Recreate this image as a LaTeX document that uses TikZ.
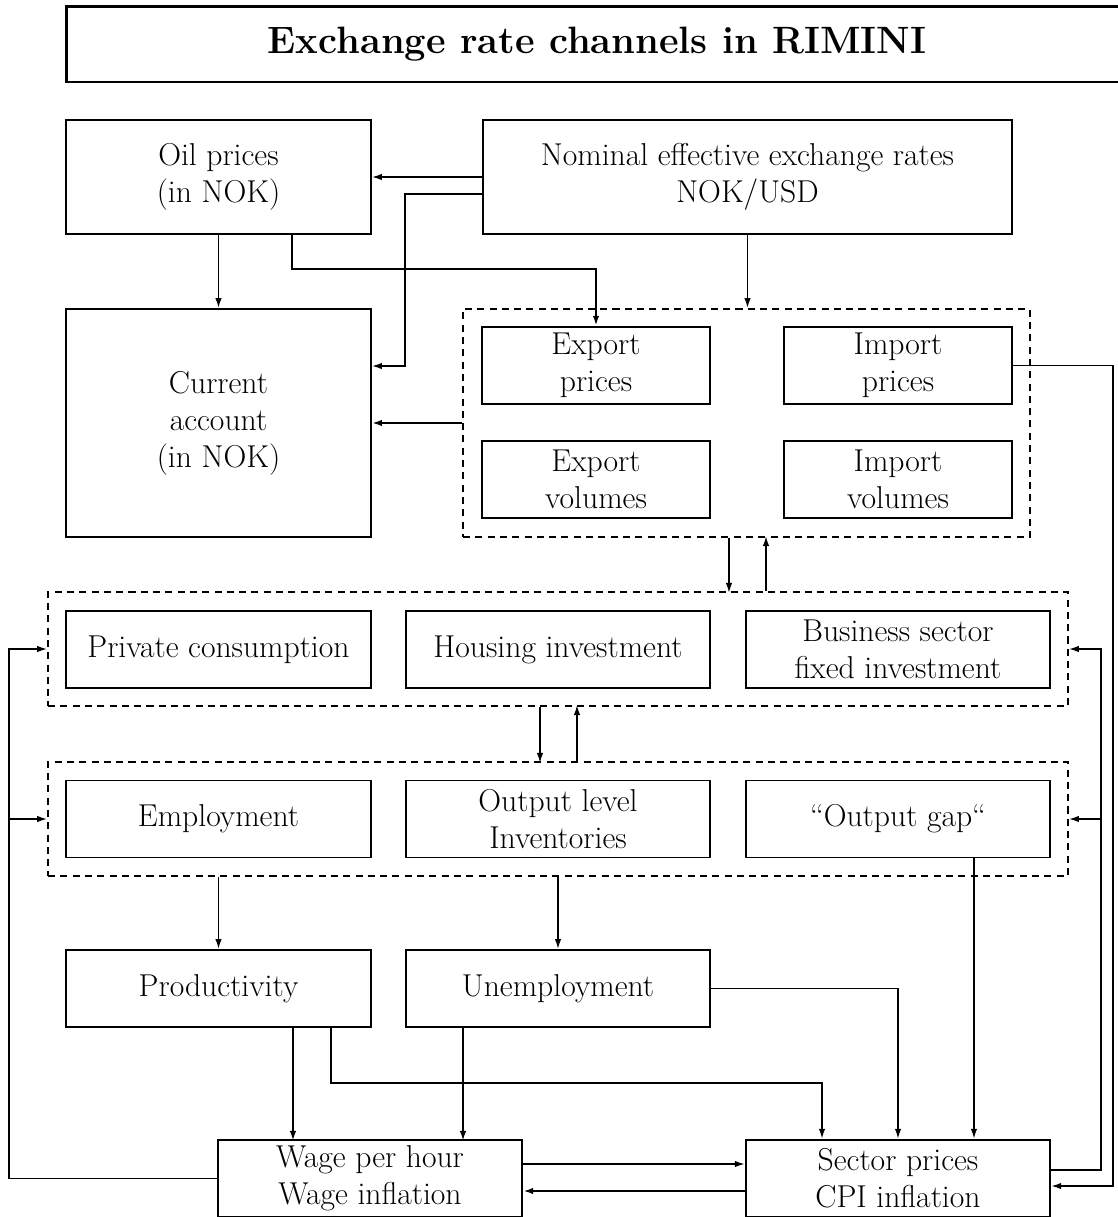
\documentclass[tikz,border=0pt]{standalone}
\usepackage{tikz}
\usetikzlibrary{arrows.meta}

\begin{document}
\begin{tikzpicture}[x=0.02cm,y=-0.02cm]
      \tikzstyle{box}=[rectangle,draw=black,line width=1.1pt,align=center,inner sep=0pt,
        font=\fontsize{18}{21}\selectfont]
      \tikzstyle{group}=[rectangle,draw=black,line width=1.1pt,dash pattern=on 4pt off 3pt]
      \tikzstyle{arr}=[line width=0.9pt,-{Latex[length=2mm,width=1.3mm]}]
      \useasboundingbox (0,0) rectangle (1117,1217);
      % title
      \node[box,line width=1.7pt,minimum width=21.24cm,minimum height=1.52cm,
        font=\fontsize{21.7}{26}\selectfont\bfseries] (title) at (597,44) {Exchange rate channels in RIMINI};
      % top row
      \node[box,minimum width=6.1cm,minimum height=2.28cm] (oil) at (218.5,177) {Oil prices\\(in NOK)};
      \node[box,minimum width=10.58cm,minimum height=2.28cm] (neer) at (747.5,177) {Nominal effective exchange rates\\NOK/USD};
      \node[box,minimum width=6.1cm,minimum height=4.56cm] (ca) at (218.5,423) {Current\\account\\(in NOK)};
      % foreign trade
      \node[group,minimum width=11.34cm,minimum height=4.56cm] (trade) at (746.5,423) {};
      \node[box,line width=1.4pt,minimum width=4.56cm,minimum height=1.54cm] (xp) at (596,365.5) {Export\\prices};
      \node[box,line width=1.4pt,minimum width=4.56cm,minimum height=1.54cm] (ip) at (898,365.5) {Import\\prices};
      \node[box,minimum width=4.56cm,minimum height=1.54cm] (xv) at (596,479.5) {Export\\volumes};
      \node[box,minimum width=4.56cm,minimum height=1.54cm] (iv) at (898,479.5) {Import\\volumes};
      % demand
      \node[group,minimum width=20.4cm,minimum height=2.28cm] (demand) at (558,649) {};
      \node[box,minimum width=6.1cm,minimum height=1.54cm] (pc) at (218.5,649.5) {Private consumption};
      \node[box,minimum width=6.08cm,minimum height=1.54cm] (hi) at (558,649.5) {Housing investment};
      \node[box,minimum width=6.08cm,minimum height=1.54cm] (bi) at (898,649.5) {Business sector\\fixed investment};
      % supply
      \node[group,minimum width=20.4cm,minimum height=2.28cm] (supply) at (558,819) {};
      \node[box,minimum width=6.1cm,minimum height=1.54cm] (emp) at (218.5,819) {Employment};
      \node[box,minimum width=6.08cm,minimum height=1.54cm] (out) at (558,819) {Output level\\Inventories};
      \node[box,minimum width=6.08cm,minimum height=1.54cm] (gap) at (898,819) {``Output gap``};
      % labour market and prices
      \node[box,minimum width=6.1cm,minimum height=1.54cm] (prod) at (218.5,988.5) {Productivity};
      \node[box,minimum width=6.08cm,minimum height=1.54cm] (unemp) at (558,988.5) {Unemployment};
      \node[box,line width=1.4pt,minimum width=6.08cm,minimum height=1.54cm] (wage) at (370,1178.5) {Wage per hour\\Wage inflation};
      \node[box,line width=1.4pt,minimum width=6.08cm,minimum height=1.54cm] (sector) at (898,1178.5) {Sector prices\\CPI inflation};
      % exchange rate and oil
      \draw[arr] (neer) -- (oil);
      \draw[arr] ([yshift=-0.34cm]neer.west) -- ++(-1.54cm,0) |- ([yshift=1.14cm]ca.east);
      \draw[arr] (oil) -- (ca);
      \draw[arr,line width=1.5pt] ([xshift=1.47cm]oil.south) -- ++(0,-0.68cm) -| (xp.north);
      \draw[arr] (neer) -- (neer |- trade.north);
      \draw[arr,line width=1.5pt] (trade) -- (ca);
      \draw[arr] (ip.east) -- ++(2cm,0) |- ([yshift=-0.15cm]sector.east);
      % feedback loops
      \draw[arr] ([yshift=0.17cm]sector.east) -- ++(1cm,0) coordinate (sr) |- (demand.east);
      \draw[arr] (sr) |- (supply.east);
      \draw[arr] (wage.west) -- ++(-4.16cm,0) coordinate (wl) |- (demand.west);
      \draw[arr] (wl) |- (supply.west);
      % between the groups
      \draw[arr] ([xshift=-0.35cm]trade.south) -- ++(0,-1.1cm);
      \draw[arr] ([xshift=0.39cm]demand.north -| trade.south) -- ++(0,1.1cm);
      \draw[arr] ([xshift=-0.36cm]demand.south) -- ++(0,-1.12cm);
      \draw[arr] ([xshift=0.38cm]supply.north) -- ++(0,1.12cm);
      \draw[arr] (supply.south -| prod.north) -- (prod.north);
      \draw[arr] (supply.south) -- (unemp.north);
      \draw[arr] ([xshift=1.52cm]gap.south) -- ([xshift=1.52cm]sector.north);
      % wages and prices
      \draw[arr] (unemp.east) -| (sector.north);
      \draw[arr,line width=1.5pt] ([xshift=1.49cm]prod.south) -- ++(0,-2.26cm);
      \draw[arr] ([xshift=2.25cm]prod.south) -- ++(0,-1.1cm) -| ([xshift=-1.52cm]sector.north);
      \draw[arr,line width=1.5pt] ([xshift=-1.9cm]unemp.south) -- ++(0,-2.26cm);
      \draw[arr] ([yshift=0.29cm]wage.east) -- ([yshift=0.29cm]sector.west);
      \draw[arr,line width=1.5pt] ([yshift=-0.25cm]sector.west) -- ([yshift=-0.25cm]wage.east);
    \end{tikzpicture}
\end{document}
